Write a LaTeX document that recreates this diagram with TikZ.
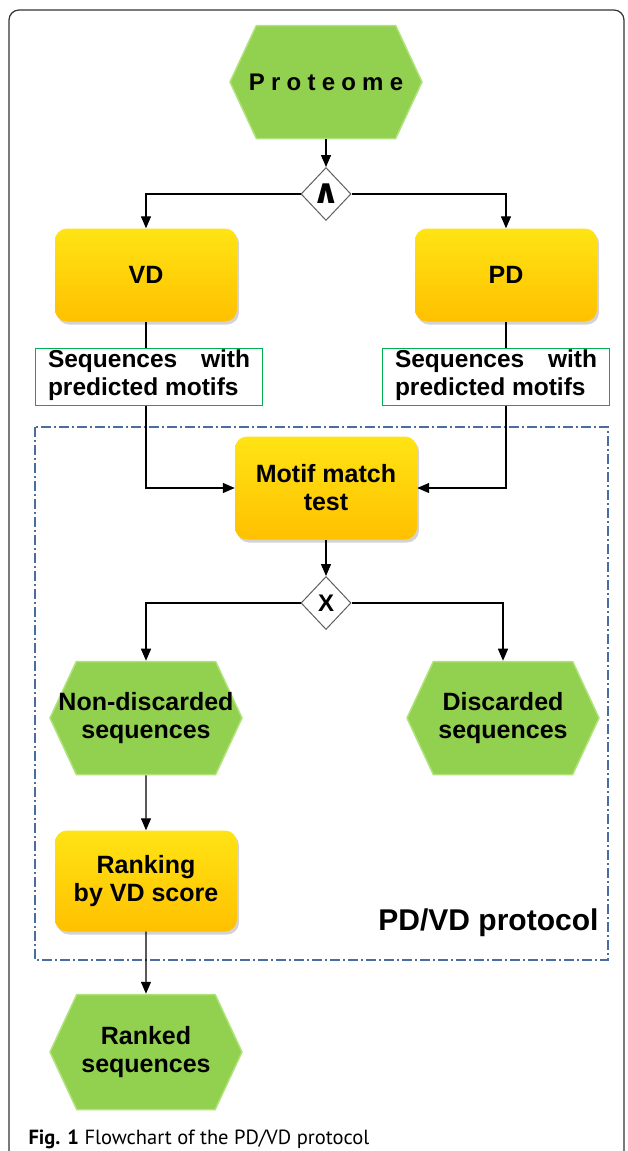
\documentclass[tikz,border=0pt]{standalone}
\usepackage{fontspec}
\setmainfont{Liberation Sans}
\newfontfamily\captionfont{PT Sans}
\newfontfamily\symfont{DejaVu Sans}
\usepackage{tikz}
\usetikzlibrary{positioning, calc, arrows.meta, shapes.geometric, shapes.symbols, shadows}

\definecolor{hexgreen}{RGB}{146,208,80}
\definecolor{hexedge}{RGB}{176,226,122}
\definecolor{boxtop}{RGB}{255,228,20}
\definecolor{boxbottom}{RGB}{255,192,0}
\definecolor{seqgreen}{RGB}{0,176,80}
\definecolor{protoblue}{RGB}{74,108,160}
\definecolor{gategray}{RGB}{95,95,95}

\begin{document}
\begin{tikzpicture}[
    x=1pt, y=-1pt,
    event/.style={signal, signal to=west and east, signal pointer angle=130, fill=hexgreen, draw=hexedge, line width=1.5pt, minimum width=192pt, minimum height=113pt, inner xsep=-30pt, inner ysep=0pt, align=center, font=\fontsize{25}{28}\selectfont\bfseries},
    func/.style={rectangle, rounded corners=12pt, top color=boxtop, bottom color=boxbottom, draw=none, minimum width=182pt, inner sep=0pt, align=center, drop shadow={shadow xshift=2pt, shadow yshift=-3pt, opacity=0.35}, font=\fontsize{25}{28}\selectfont\bfseries},
    gate/.style={diamond, draw=gategray, fill=white, line width=1pt, minimum width=50pt, minimum height=53pt, inner sep=0pt, font=\fontsize{24}{24}\selectfont\bfseries},
    output/.style={rectangle, draw=seqgreen, line width=1.3pt, fill=white, minimum width=227pt, minimum height=57pt, inner sep=0pt, font=\fontsize{24.5}{28}\selectfont\bfseries},
    arrow/.style={-{Triangle[length=12pt, width=10pt]}, line width=1.3pt},
    link/.style={line width=1.3pt}
]
    \useasboundingbox (0,0) rectangle (627,1151);

    % Frame of the figure
    \draw[line width=1.2pt, black!80, rounded corners=10pt] (9,1151) -- (9,10) -- (624,10) -- (624,1151);

    % Protocol box
    \draw[protoblue, line width=1.2pt, dash pattern=on 10pt off 3pt on 2pt off 3pt] (35,427) rectangle (608,960);
    \node[anchor=east, font=\fontsize{30}{32}\selectfont\bfseries] (protocol) at (602,923) {PD/VD protocol};

    % Start event and first gate
    \node[event, font=\fontsize{24}{26}\selectfont\bfseries] (proteome) at (326,82) {\addfontfeatures{LetterSpace=26}Proteome};
    \node[gate] (and) at (326,194) {\symfont\fontsize{34}{34}\selectfont ∧};

    % Prediction functions
    \node[func, minimum height=93pt] (vd) at (146,275) {VD};
    \node[func, minimum height=93pt] (pd) at (506,275) {PD};

    % Their outputs
    \node[output] (seqvd) at (149,377) {\parbox{202pt}{Sequences\hfill with\\\strut predicted motifs}};
    \node[output] (seqpd) at (496,377) {\parbox{202pt}{Sequences\hfill with\\\strut predicted motifs}};

    % Matching and second gate
    \node[func, minimum height=103pt] (motif) at (326,488) {Motif match\\test};
    \node[gate] (xor) at (326,603) {X};

    % Resulting events
    \node[event] (nondisc) at (146,718) {Non-discarded\\sequences};
    \node[event] (disc) at (503,718) {Discarded\\sequences};

    % Ranking
    \node[func, minimum height=101pt] (ranking) at (146,881) {Ranking\\by VD score};
    \node[event, minimum height=115pt] (ranked) at (146,1052) {Ranked\\sequences};

    % Connections
    \draw[arrow] (proteome) -- (and);
    \draw[arrow] (and) -| (vd);
    \draw[arrow] (and) -| (pd);
    \draw[link] (vd) -- (vd |- seqvd.north);
    \draw[link] (pd) -- (pd |- seqpd.north);
    \draw[arrow] (vd |- seqvd.south) |- (motif);
    \draw[arrow] (pd |- seqpd.south) |- (motif);
    \draw[arrow] (motif) -- (xor);
    \draw[arrow] (xor) -| (nondisc);
    \draw[arrow] (xor) -| (disc);
    \draw[arrow] (nondisc) -- (ranking);
    \draw[arrow] (ranking) -- (ranked);

    % Caption
    \node[anchor=base west, font=\captionfont\fontsize{20.5}{22}\selectfont] (caption) at (25,1144) {\textbf{Fig. 1} Flowchart of the PD/VD protocol};

\end{tikzpicture}
\end{document}
